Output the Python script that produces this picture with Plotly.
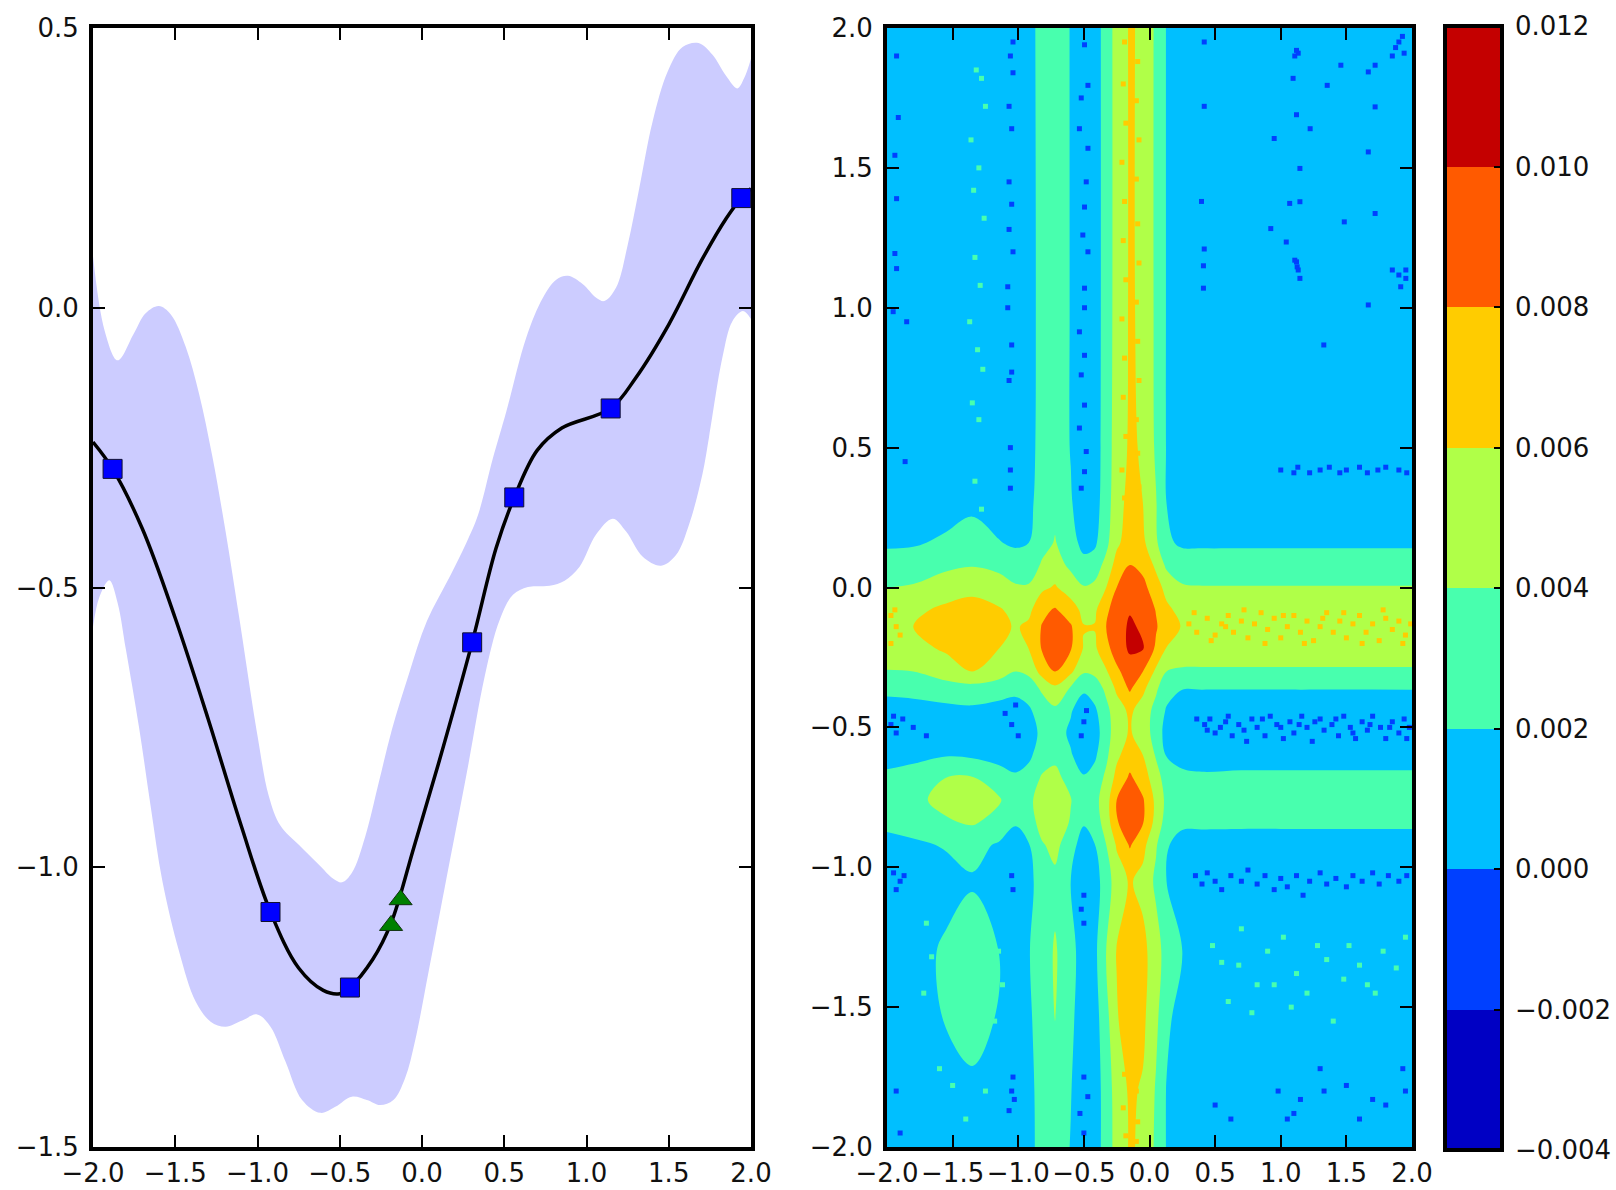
import plotly.graph_objects as go

W, H = 1616, 1190

# ---------- left panel data ----------
mean_x = [-2.0,-1.881,-1.7,-1.5,-1.3,-1.1,-0.921,-0.75,-0.6,-0.5,-0.438,-0.3,-0.188,-0.05,0.1,0.305,0.45,0.561,0.7,0.85,1.147,1.3,1.5,1.7,1.85,1.941,2.0]
mean_y = [-0.24,-0.288,-0.395,-0.555,-0.735,-0.925,-1.08,-1.18,-1.22,-1.226,-1.215,-1.165,-1.1,-0.965,-0.815,-0.598,-0.43,-0.339,-0.255,-0.215,-0.18,-0.125,-0.03,0.085,0.16,0.196,0.213]

upper_x = [-2.0,-1.93,-1.85,-1.75,-1.68,-1.6,-1.527,-1.436,-1.355,-1.275,-1.194,-1.113,-1.0,-0.931,-0.86,-0.749,-0.628,-0.537,-0.486,-0.426,-0.345,-0.264,-0.184,-0.08,0.03,0.17,0.27,0.341,0.43,0.513,0.634,0.735,0.816,0.887,0.978,1.059,1.109,1.18,1.251,1.321,1.402,1.493,1.584,1.681,1.766,1.847,1.917,1.958,2.0]
upper_y = [0.092,-0.04,-0.094,-0.045,-0.01,0.003,-0.012,-0.07,-0.154,-0.265,-0.4,-0.55,-0.765,-0.873,-0.926,-0.96,-0.995,-1.021,-1.027,-1.01,-0.945,-0.85,-0.755,-0.655,-0.56,-0.48,-0.42,-0.37,-0.27,-0.185,-0.053,0.018,0.05,0.057,0.042,0.018,0.012,0.036,0.113,0.214,0.333,0.422,0.466,0.473,0.452,0.415,0.392,0.41,0.445]

lower_x = [-2.0,-1.96,-1.901,-1.85,-1.8,-1.72,-1.65,-1.578,-1.477,-1.376,-1.285,-1.194,-1.093,-1.002,-0.921,-0.83,-0.729,-0.618,-0.527,-0.426,-0.335,-0.254,-0.174,-0.103,-0.042,0.038,0.139,0.28,0.381,0.472,0.553,0.644,0.776,0.867,0.958,1.059,1.16,1.241,1.342,1.453,1.544,1.625,1.705,1.745,1.826,1.887,1.951,2.0]
lower_y = [-0.57,-0.516,-0.487,-0.528,-0.611,-0.75,-0.89,-1.025,-1.15,-1.24,-1.276,-1.285,-1.274,-1.263,-1.285,-1.347,-1.416,-1.439,-1.428,-1.41,-1.416,-1.425,-1.416,-1.377,-1.31,-1.19,-1.035,-0.819,-0.659,-0.558,-0.513,-0.499,-0.497,-0.488,-0.463,-0.405,-0.377,-0.4,-0.445,-0.461,-0.442,-0.386,-0.297,-0.231,-0.089,-0.024,-0.006,-0.02]

square_x = [-1.881,-0.921,-0.438,0.305,0.561,1.147,1.941]
square_y = [-0.288,-1.08,-1.215,-0.598,-0.339,-0.18,0.196]
triangle_x = [-0.13,-0.188]
triangle_y = [-1.058,-1.104]

# ---------- right panel data (values in thousandths) ----------
grid_x = [-2.0,-1.8,-1.55,-1.35,-1.15,-1.02,-0.92,-0.82,-0.72,-0.6,-0.5,-0.42,-0.33,-0.25,-0.15,-0.05,0.05,0.13,0.25,0.4,0.7,1.0,1.15,1.4,1.7,2.0]
grid_y = [2.0,1.0,0.5,0.3,0.16,0.08,0.0,-0.08,-0.14,-0.22,-0.3,-0.36,-0.44,-0.52,-0.6,-0.68,-0.76,-0.84,-0.92,-1.05,-1.3,-1.55,-1.8,-2.0]
grid_z = [
 [.9,.8,1,1,.8,.5,1.4,2.6,3.2,1.9,.4,.8,3.0,4.7,6.2,5.7,3.6,1.9,1,1,1,1,.9,1,1,.8],
 [.8,.9,1,1,.9,.5,1.3,2.6,3.3,1.9,.4,.8,3.0,4.7,6.2,5.7,3.6,1.9,1,1,1,1,.8,1,1,.8],
 [.9,1,1,1,.9,.5,1.3,2.7,3.4,1.9,.5,.8,3.1,4.8,6.3,5.8,3.7,1.9,1,1,1,1,1,.9,.9,.9],
 [1,1,1.2,1.7,1.1,.7,1.5,2.9,3.6,2.2,.7,1,3.2,5,6.8,6,4.1,2,1,1,1,1,1,1,1,1],
 [1.7,1.8,2.3,2.6,2.1,1.7,2.0,3.4,4.1,3,1.2,1.6,3.5,5.6,7,6.4,4.3,2.3,1.7,1.7,1.7,1.7,1.7,1.7,1.7,1.7],
 [2.8,2.9,3.6,3.9,3.5,3.0,3.0,4.2,4.8,3.6,2.8,3.0,4.6,6.8,8.0,7.4,5.6,3.6,3.0,2.9,2.9,2.9,2.9,2.9,2.9,2.9],
 [4.0,4.2,5.0,5.3,4.9,4.2,4.2,5.6,6.2,5.0,4.1,4.4,6.0,8.0,9.3,8.6,6.8,5.4,4.2,4.1,4.1,4.1,4.1,4.1,4.1,4.1],
 [5.4,5.6,6.4,7.0,6.2,5.5,5.5,7.5,8.2,7.0,5.4,5.6,7.6,9.0,9.9,9.4,7.9,6.4,5.4,5.4,5.5,5.4,5.4,5.4,5.5,5.5],
 [5.8,6.0,6.9,7.4,6.6,5.8,6.4,8.1,9.0,8.2,6.1,6.1,8.0,9.4,10.2,9.8,8.2,6.7,5.9,5.9,5.9,5.9,5.9,5.9,5.9,5.9],
 [5.3,5.5,6.2,6.8,6.0,5.3,6.0,8.1,8.9,8.1,5.8,5.6,7.4,8.9,10.3,10.1,7.6,5.9,5.3,5.2,5.2,5.2,5.2,5.2,5.2,5.2],
 [3.9,4.0,5.2,6.0,5.0,4.0,4.4,6.8,8.0,6.4,4.2,4.4,5.8,7.6,9.0,8.0,5.6,4,3.7,3.7,3.7,3.7,3.7,3.7,3.7,3.7],
 [2.6,2.7,3,3.3,2.9,2.7,3,4.3,5.6,3.8,2.4,3,4.4,6.4,8.3,6.5,4.3,2.8,2.1,2.1,2.1,2.1,2.1,2.1,2.1,2.1],
 [1.0,1.2,1.5,1.6,1.3,.9,1.7,3,3.6,2.2,.7,1.6,3.5,5,6.4,5,3.4,1.8,.7,.6,.5,.5,.6,.5,.5,.6],
 [.3,.4,.7,.8,.4,.3,1,2.5,3,1.6,.3,1.0,3.2,5,6.2,5,3.2,1.2,.4,.3,.3,.3,.3,.3,.3,.3],
 [1,1.4,1.9,1.7,1.1,.7,1.6,3,3.5,2.2,.8,1.6,3.6,5.6,7.0,6,3.8,1.9,1.1,.9,1,1,1,1,1,1],
 [2.6,3,4.0,4.1,3.2,2.4,2.8,4.2,4.6,3.2,2.2,2.8,4.4,6.6,8.3,7,4.8,3.1,2.6,2.4,2.5,2.5,2.5,2.5,2.5,2.5],
 [3.2,3.6,4.5,5.0,4.2,3,3.5,5.0,5.5,4.1,2.8,3.3,5.1,8.0,9.5,8.2,5.5,3.5,3.1,3.2,3.2,3.2,3.2,3.2,3.2,3.2],
 [2.6,3,3.8,4.2,3.4,2.2,3.0,4.8,5.4,3.8,2.2,2.9,4.9,7.8,9.3,8.1,5.3,3.1,2.4,2.4,2.4,2.4,2.4,2.4,2.4,2.4],
 [1.2,1.6,2.2,2.6,1.8,1,1.9,3.8,4.6,2.8,1,1.9,4,6.2,8.2,6.6,4.2,2.2,1.2,1.1,1,1,1,1,1,1],
 [.6,.8,1.1,1.8,1.1,.7,1.4,3,3.5,2,.5,1.1,3,5,6.2,5.4,3.6,2,.9,.6,.6,.6,.6,.6,.6,.6],
 [1,1,2.4,3.1,2,.9,1.9,3.0,4.2,2.8,.8,1.4,4.1,6.1,7.4,6.6,4.8,3.2,2,1.3,1,1,1,1,1,1],
 [1,1,2.1,2.9,1.8,.7,1.6,3.1,4.0,2.5,.6,1.1,3.3,5.8,7.1,6.4,4.4,2.4,1.1,1,1,1,1,1,1,1],
 [1,1,1.1,1.5,1,.7,1.4,2.8,3.4,2.1,.4,.8,3,4.8,6.3,5.8,3.8,1.9,1,1,1,.9,.8,.9,.9,1],
 [1,1,1,1,.8,.5,1.4,2.7,3.3,1.9,.3,.8,3,4.7,6.2,5.7,3.6,1.9,1,1,.9,.8,.7,.8,.9,1],
]
band_colors = ["#0000c4","#0040ff","#00bfff","#48ffae","#b0ff48","#ffcc00","#ff5a00","#c40000"]

# noisy pixels
blue_x = [-1.04,-1.06,-1.04,-1.07,-1.05,-1.07,-1.05,-1.07,-1.04,-1.08,-1.08,-1.05,-1.05,-1.07,-1.06,-1.06,-1.06,
          -.495,-.469,-.52,-.534,-.469,-.482,-.495,-.508,-.469,-.495,-.495,-.534,-.495,-.52,-.495,-.534,-.482,-.495,-.52,
          .417,.417,.396,.417,.411,.411,
          1.12,1.107,1.133,1.094,1.12,1.12,1.133,1.107,1.146,1.125,
          1.90,1.875,1.927,1.85,1.94,1.953,1.90,1.85,1.914,1.953,
          -1.927,-1.914,-1.94,-1.927,-1.94,-1.927,-1.953,-1.85,-1.862,
          1.458,1.719,1.667,1.354,1.719,1.224,.95,1.667,1.146,1.068,1.146,1.719,1.484,.924,1.042,1.667,1.328,
          1.0,1.1,1.13,1.22,1.3,1.37,1.45,1.5,1.6,1.66,1.74,1.8,1.9,1.96,
          .36,.42,.46,.5,.54,.6,.63,.68,.74,.78,.82,.88,.92,.97,1.02,1.07,1.1,1.16,1.2,1.24,1.3,1.33,1.39,1.44,1.48,1.53,1.57,1.62,1.66,1.7,1.76,1.8,1.85,1.9,1.94,1.98,
          .44,.58,.72,.86,1.0,1.14,1.26,1.42,1.55,1.68,1.83,1.96,
          -1.97,-1.93,-1.88,-1.95,-1.8,-1.7,-1.05,-1.0,-1.1,-1.02,-.5,-.52,-.48,
          .35,.4,.44,.5,.55,.62,.7,.75,.82,.88,.95,1.0,1.05,1.12,1.17,1.22,1.3,1.35,1.42,1.5,1.55,1.62,1.7,1.75,1.82,1.9,1.96,
          -1.95,-1.9,-1.87,-1.93,-1.05,-1.04,-.5,-.52,-.5,
          -1.05,-1.03,-1.07,-1.04,-.5,-.47,-.53,-.5,
          .98,1.05,1.1,1.15,1.3,1.33,1.5,1.6,1.7,1.8,1.95,1.93,.5,.62,-1.93,-1.9]
blue_y = [1.95,1.90,1.84,1.72,1.64,1.45,1.37,1.28,1.20,1.075,1.00,.867,.77,.74,.50,.42,.355,
          1.94,1.795,1.75,1.64,1.57,1.45,1.36,1.26,1.2,1.07,1.0,.914,.83,.76,.652,.57,.486,.414,.355,
          1.95,1.72,1.38,1.21,1.15,1.07,
          1.92,1.90,1.91,1.82,1.69,1.164,1.135,1.17,1.105,1.146,
          1.95,1.93,1.97,1.90,1.91,1.135,1.117,1.135,1.075,1.105,
          1.90,1.68,1.545,1.39,1.194,1.14,.986,.95,.45,
          1.867,1.867,1.843,1.795,1.718,1.64,1.605,1.557,1.498,1.373,1.379,1.337,1.307,1.283,1.235,1.01,.867,
          .42,.41,.43,.41,.42,.43,.41,.42,.43,.41,.42,.43,.42,.41,
          -.47,-.49,-.47,-.52,-.50,-.46,-.53,-.49,-.55,-.47,-.5,-.53,-.46,-.49,-.54,-.48,-.52,-.46,-.5,-.55,-.47,-.51,-.49,-.53,-.46,-.5,-.54,-.48,-.51,-.46,-.5,-.54,-.48,-.52,-.47,-.5,
          -.51,-.48,-.51,-.47,-.5,-.49,-.48,-.47,-.52,-.49,-.5,-.54,
          -.49,-.52,-.47,-.46,-.5,-.53,-.49,-.53,-.45,-.42,-.48,-.53,-.44,
          -1.03,-1.06,-1.02,-1.05,-1.08,-1.03,-1.05,-1.01,-1.06,-1.03,-1.08,-1.04,-1.07,-1.03,-1.1,-1.05,-1.02,-1.06,-1.04,-1.07,-1.03,-1.05,-1.02,-1.06,-1.03,-1.05,-1.03,
          -1.02,-1.05,-1.03,-1.08,-1.03,-1.08,-1.1,-1.15,-1.2,
          -1.8,-1.83,-1.87,-1.75,-1.75,-1.82,-1.88,-1.95,
          -1.8,-1.9,-1.88,-1.83,-1.72,-1.8,-1.78,-1.9,-1.83,-1.85,-1.8,-1.72,-1.85,-1.9,-1.8,-1.95]

green_x = [-1.32,-1.28,-1.25,-1.36,-1.3,-1.34,-1.26,-1.33,-1.29,-1.37,-1.31,-1.27,-1.35,-1.3,-1.33,-1.28,
           .48,.55,.68,.7,.82,.9,1.02,1.12,1.2,1.28,1.35,1.48,1.52,1.6,1.66,1.78,1.88,1.95,.6,.78,.95,1.08,1.4,1.72,
           -1.7,-1.66,-1.72,-1.15,-1.12,-1.18,-1.6,-1.5,-1.25,-1.4]
green_y = [1.85,1.82,1.72,1.6,1.5,1.42,1.32,1.18,1.08,.95,.85,.78,.66,.6,.38,.28,
           -1.28,-1.34,-1.35,-1.22,-1.42,-1.3,-1.25,-1.38,-1.45,-1.28,-1.33,-1.4,-1.28,-1.35,-1.42,-1.3,-1.36,-1.25,-1.48,-1.52,-1.42,-1.5,-1.55,-1.45,
           -1.2,-1.32,-1.45,-1.3,-1.42,-1.55,-1.72,-1.78,-1.8,-1.9]

yellow_x = [.3,.36,.44,.5,.55,.6,.64,.7,.75,.8,.85,.9,.95,1.0,1.05,1.1,1.15,1.2,1.25,1.3,1.35,1.4,1.45,1.5,1.55,1.6,1.65,1.7,1.75,1.8,1.85,1.9,1.95,1.99,
            .34,.47,.58,.72,.88,1.02,1.18,1.32,1.48,1.62,1.78,1.93,-1.97,-1.93,-1.9,-1.97,-1.94,
            -.19,-.09,-.2,-.1,-.18,-.08,-.21,-.1,-.19,-.09,-.2,-.08,-.18,-.1,-.21,-.09,-.19,-.08,-.2,-.1,-.18,-.09,-.21,-.08,-.19,-.1,
            -.19,-.1,-.2,-.09,-.18,-.1]
yellow_y = [-.13,-.16,-.11,-.17,-.13,-.1,-.16,-.12,-.18,-.13,-.09,-.15,-.11,-.18,-.14,-.1,-.16,-.12,-.19,-.14,-.09,-.16,-.12,-.18,-.13,-.1,-.16,-.13,-.19,-.11,-.15,-.12,-.17,-.13,
            -.09,-.19,-.14,-.08,-.2,-.1,-.2,-.11,-.09,-.2,-.08,-.2,-.1,-.14,-.17,-.2,-.08,
            1.95,1.88,1.8,1.74,1.66,1.6,1.52,1.46,1.38,1.3,1.24,1.16,1.1,1.02,.96,.88,.82,.74,.68,.6,.54,.48,.42,.36,.32,.4,
            -1.74,-1.8,-1.86,-1.91,-1.96,-1.98]

colorscale = []
for i, c in enumerate(band_colors):
    colorscale += [[i / 8, c], [(i + 1) / 8, c]]

z = [[v / 1000 for v in row] for row in grid_z[::-1]]

ML, MR, MT, MB = 60, 112, 16, 36
PW, PH = W - ML - MR, H - MT - MB
def fx(px): return (px - ML) / PW
def fy(py): return 1 - (py - MT) / PH

FONT = dict(family="DejaVu Sans", size=26, color="#111111")

fig = go.Figure()
fig.add_trace(go.Scatter(x=lower_x, y=lower_y, mode="lines", line=dict(width=0, shape="spline", smoothing=1),
                         showlegend=False, hoverinfo="skip"))
fig.add_trace(go.Scatter(x=upper_x, y=upper_y, mode="lines", line=dict(width=0, shape="spline", smoothing=1),
                         fill="tonexty", fillcolor="#ccccff", showlegend=False, hoverinfo="skip"))
fig.add_trace(go.Scatter(x=mean_x, y=mean_y, mode="lines", line=dict(color="black", width=3.5, shape="spline", smoothing=1),
                         showlegend=False))
fig.add_trace(go.Scatter(x=square_x, y=square_y, mode="markers",
                         marker=dict(symbol="square", size=19, color="#0000ff", line=dict(color="#101030", width=1)),
                         showlegend=False))
fig.add_trace(go.Scatter(x=triangle_x, y=triangle_y, mode="markers",
                         marker=dict(symbol="triangle-up", size=20, color="#008000", line=dict(color="#103010", width=1)),
                         showlegend=False))
fig.add_trace(go.Contour(
    x=grid_x, y=grid_y[::-1], z=z, xaxis="x2", yaxis="y2",
    zmin=-0.004, zmax=0.012, colorscale=colorscale,
    contours=dict(coloring="fill", start=-0.004, end=0.012, size=0.002, showlines=False),
    line=dict(width=0),
    colorbar=dict(
        x=fx(1445), xanchor="left", xpad=0, thickness=57, thicknessmode="pixels",
        y=fy(1150), yanchor="bottom", ypad=0, len=(1150 - 26) / PH, lenmode="fraction",
        outlinewidth=4, outlinecolor="black", borderwidth=0,
        ticks="inside", ticklen=10, tickwidth=1.5, tickcolor="black",
        tick0=-0.004, dtick=0.002, tickformat=".3f", tickprefix="\u2009",
        tickfont=FONT,
    ),
))
for sx, sy, col in [(green_x, green_y, "#48ffae"), (yellow_x, yellow_y, "#ffcc00"), (blue_x, blue_y, "#0040ff")]:
    fig.add_trace(go.Scatter(x=sx, y=sy, xaxis="x2", yaxis="y2", mode="markers",
                             marker=dict(symbol="square", size=5, color=col, line=dict(width=0)),
                             showlegend=False, hoverinfo="skip"))

axis_common = dict(
    showgrid=False, zeroline=False, showline=True, linecolor="black", linewidth=4, mirror="ticks",
    ticks="inside", ticklen=12, tickwidth=1.5, tickcolor="black", tickformat=".1f", dtick=0.5,
    tickfont=FONT,
)
dom_y = [fy(1147), fy(28)]
fig.update_layout(
    width=W, height=H, autosize=False, paper_bgcolor="white", plot_bgcolor="white",
    margin=dict(l=ML, r=MR, t=MT, b=MB, pad=0, autoexpand=False), showlegend=False,
    xaxis=dict(domain=[fx(93), fx(751)], range=[-2, 2], anchor="y", tick0=-2, **axis_common),
    yaxis=dict(domain=dom_y, range=[-1.5, 0.5], anchor="x", tick0=-1.5, ticklabelstandoff=5, **axis_common),
    xaxis2=dict(domain=[fx(887), fx(1412)], range=[-2, 2], anchor="y2", tick0=-2, **axis_common),
    yaxis2=dict(domain=dom_y, range=[-2, 2], anchor="x2", tick0=-2, ticklabelstandoff=5, **axis_common),
)
fig.write_html("out.html", config=dict(displayModeBar=False),
               post_script="document.body.style.margin='0';document.body.style.overflow='hidden';")
